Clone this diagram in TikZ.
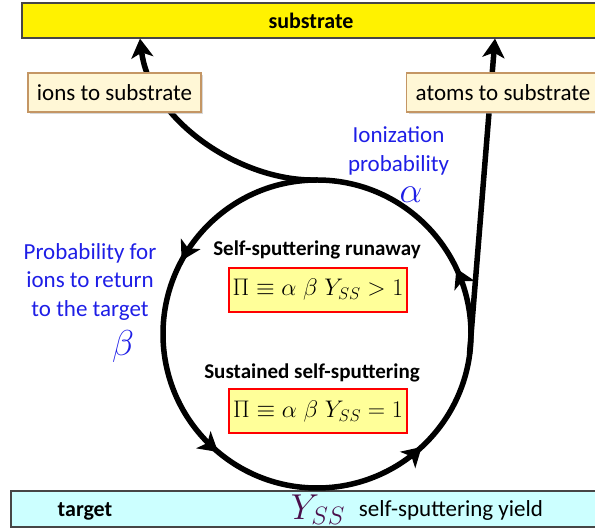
\RequirePackage{fix-cm}
\documentclass[tikz,border=0pt]{standalone}
\usepackage{amsmath}
\usepackage[no-math]{fontspec}
\setmainfont{Carlito}
\usetikzlibrary{arrows.meta, decorations.markings, shadows}

\definecolor{notefill}{RGB}{255,247,214}
\definecolor{notedraw}{RGB}{196,150,100}
\definecolor{eqfill}{RGB}{255,255,153}
\definecolor{tgtfill}{RGB}{204,255,255}
\definecolor{framegray}{RGB}{70,70,70}
\definecolor{labelblue}{RGB}{30,30,230}
\definecolor{yssviolet}{RGB}{75,15,75}

\tikzset{
  slab/.style={draw=framegray, line width=1.2pt, inner sep=0pt},
  notebox/.style={draw=notedraw, fill=notefill, line width=1.5pt, inner xsep=9pt,
    minimum height=39pt, font=\fontsize{23}{27}\selectfont,
    drop shadow={shadow xshift=2pt, shadow yshift=-2pt, fill=black!30}},
  eqbox/.style={draw=red, fill=eqfill, line width=2pt, minimum width=178pt,
    minimum height=44pt, font=\fontsize{24}{28}\selectfont},
  headline/.style={font=\fontsize{21}{25}\selectfont\bfseries},
  bluelabel/.style={text=labelblue, align=center, font=\fontsize{23}{28.5}\selectfont},
  greek/.style={inner sep=0pt, font=\fontsize{36}{36}\selectfont},
  flow/.style={line width=5.5pt},
  looptip/.tip={Stealth[length=19pt, width=22pt, inset=5pt]},
}

\begin{document}
\begin{tikzpicture}[x=1pt, y=1pt, >=looptip]
  \useasboundingbox (0,0) rectangle (595,529);
  % substrate on top, target at the bottom
  \node[slab, fill=yellow, minimum width=578pt, minimum height=35pt,
    font=\fontsize{22}{26}\selectfont\bfseries] (sub) at (311,508.5) {substrate};
  \node[slab, fill=tgtfill, minimum width=589pt, minimum height=36pt] (tgt) at (305.5,20) {};
  \node[font=\fontsize{22}{26}\selectfont\bfseries] (tgtlabel) at (85,18) {target};
  \node[text=yssviolet, greek] (yss) at (318,19) {$Y_{SS}$};
  \node[font=\fontsize{23}{27}\selectfont] (yield) at (451,19) {self-sputtering yield};

  \coordinate (top) at (317,349);
  \coordinate (ionhit) at (sub.south -| 140,0);
  \coordinate (atomhit) at (sub.south -| 495,0);
  \coordinate (atomstart) at (469.5,175);

  % self-sputtering loop
  \draw[flow, postaction={decorate}, decoration={markings,
      mark=at position 0.171 with {\arrow{looptip}},
      mark=at position 0.389 with {\arrow{looptip}},
      mark=at position 0.619 with {\arrow{looptip}},
      mark=at position 0.82 with {\arrow{looptip}}}]
    (top) arc[start angle=90, end angle=450, radius=154];
  \draw[flow, -looptip] (top) .. controls (240,347) and (150,409) .. (ionhit);
  \draw[flow, -looptip] (atomstart) -- (atomhit);

  \node[notebox] (ions) at (114.5,436.5) {ions to substrate};
  \node[notebox] (atoms) at (503,436.5) {atoms to substrate};

  \node[headline] (runaway) at (317,279) {Self-sputtering runaway};
  \node[eqbox] (eqrun) at (318,239) {$\Pi \equiv \alpha\;\beta\;Y_{SS} > 1$};
  \node[headline] (sustained) at (312,156) {Sustained self-sputtering};
  \node[eqbox] (eqsus) at (318,117.5) {$\Pi \equiv \alpha\;\beta\;Y_{SS} = 1$};

  \node[bluelabel] (retlabel) at (90,247) {Probability for\\ions to return\\to the target};
  \node[text=labelblue, greek] (betalabel) at (123,182) {$\beta$};
  \node[bluelabel] (ionlabel) at (398.5,378) {Ionization\\probability};
  \node[text=labelblue, greek] (alphalabel) at (411,334) {$\alpha$};
\end{tikzpicture}
\end{document}
